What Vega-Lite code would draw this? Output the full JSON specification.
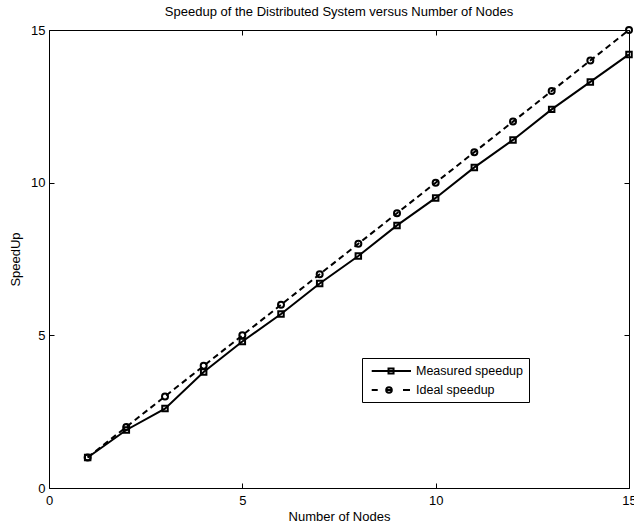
{
  "$schema": "https://vega.github.io/schema/vega-lite/v6.json",
  "width": 580,
  "height": 458,
  "autosize": {"type": "none"},
  "padding": {"left": 49, "top": 30, "right": 5, "bottom": 36},
  "background": "white",
  "config": {
    "font": "Liberation Sans",
    "view": {"stroke": "black", "strokeWidth": 1},
    "axis": {"grid": false, "domain": false, "tickColor": "black", "tickSize": -5, "labelColor": "black", "labelFontSize": 13, "titleFontSize": 13, "titleFontWeight": "normal", "titleColor": "black", "labelFont": "Liberation Sans", "titleFont": "Liberation Sans"}
  },
  "title": {"text": "Speedup of the Distributed System versus Number of Nodes", "fontSize": 13, "fontWeight": "normal", "font": "Liberation Sans", "color": "black", "anchor": "middle", "offset": 4},
  "data": {"values": [
    {"n": 1, "s": 1.0, "series": "Measured speedup"},
    {"n": 2, "s": 1.9, "series": "Measured speedup"},
    {"n": 3, "s": 2.6, "series": "Measured speedup"},
    {"n": 4, "s": 3.8, "series": "Measured speedup"},
    {"n": 5, "s": 4.8, "series": "Measured speedup"},
    {"n": 6, "s": 5.7, "series": "Measured speedup"},
    {"n": 7, "s": 6.7, "series": "Measured speedup"},
    {"n": 8, "s": 7.6, "series": "Measured speedup"},
    {"n": 9, "s": 8.6, "series": "Measured speedup"},
    {"n": 10, "s": 9.5, "series": "Measured speedup"},
    {"n": 11, "s": 10.5, "series": "Measured speedup"},
    {"n": 12, "s": 11.4, "series": "Measured speedup"},
    {"n": 13, "s": 12.4, "series": "Measured speedup"},
    {"n": 14, "s": 13.3, "series": "Measured speedup"},
    {"n": 15, "s": 14.2, "series": "Measured speedup"},
    {"n": 1, "s": 1, "series": "Ideal speedup"},
    {"n": 2, "s": 2, "series": "Ideal speedup"},
    {"n": 3, "s": 3, "series": "Ideal speedup"},
    {"n": 4, "s": 4, "series": "Ideal speedup"},
    {"n": 5, "s": 5, "series": "Ideal speedup"},
    {"n": 6, "s": 6, "series": "Ideal speedup"},
    {"n": 7, "s": 7, "series": "Ideal speedup"},
    {"n": 8, "s": 8, "series": "Ideal speedup"},
    {"n": 9, "s": 9, "series": "Ideal speedup"},
    {"n": 10, "s": 10, "series": "Ideal speedup"},
    {"n": 11, "s": 11, "series": "Ideal speedup"},
    {"n": 12, "s": 12, "series": "Ideal speedup"},
    {"n": 13, "s": 13, "series": "Ideal speedup"},
    {"n": 14, "s": 14, "series": "Ideal speedup"},
    {"n": 15, "s": 15, "series": "Ideal speedup"}
  ]},
  "layer": [
    {
      "transform": [{"filter": "datum.series === 'Measured speedup'"}],
      "mark": {"type": "line", "color": "black", "strokeWidth": 2},
      "encoding": {
        "x": {"field": "n", "type": "quantitative", "scale": {"domain": [0, 15], "nice": false}, "axis": {"orient": "bottom", "values": [0, 5, 10, 15], "title": "Number of Nodes", "labelPadding": 11, "titlePadding": 3, "labelFlush": false}},
        "y": {"field": "s", "type": "quantitative", "scale": {"domain": [0, 15], "nice": false}, "axis": {"orient": "left", "values": [0, 5, 10, 15], "title": "SpeedUp", "labelPadding": 9, "titlePadding": 8, "labelFlush": false}}
      }
    },
    {
      "transform": [{"filter": "datum.series === 'Ideal speedup'"}],
      "mark": {"type": "line", "color": "black", "strokeWidth": 2, "strokeDash": [6, 4]},
      "encoding": {
        "x": {"field": "n", "type": "quantitative", "axis": null},
        "y": {"field": "s", "type": "quantitative", "axis": null}
      }
    },
    {
      "transform": [{"filter": "datum.series === 'Measured speedup'"}],
      "mark": {"type": "point", "shape": "square", "filled": false, "stroke": "black", "strokeWidth": 2, "size": 30, "opacity": 1},
      "encoding": {
        "x": {"field": "n", "type": "quantitative", "axis": {"orient": "top", "values": [0, 5, 10, 15], "labels": false, "title": null}},
        "y": {"field": "s", "type": "quantitative", "axis": {"orient": "right", "values": [0, 5, 10, 15], "labels": false, "title": null}}
      }
    },
    {
      "transform": [{"filter": "datum.series === 'Ideal speedup'"}],
      "mark": {"type": "point", "shape": "circle", "filled": false, "stroke": "black", "strokeWidth": 2, "size": 36, "opacity": 1},
      "encoding": {
        "x": {"field": "n", "type": "quantitative", "axis": null},
        "y": {"field": "s", "type": "quantitative", "axis": null}
      }
    },
    {
      "mark": {"type": "point", "filled": false, "color": "black", "strokeWidth": 2, "size": 196, "opacity": 0},
      "encoding": {
        "x": {"field": "n", "type": "quantitative", "axis": null},
        "y": {"field": "s", "type": "quantitative", "axis": null},
        "shape": {"field": "series", "type": "nominal",
          "scale": {"domain": ["Measured speedup", "Ideal speedup"], "range": ["M-0.47,0H5.14M1.93,-0.36H2.65V0.36H1.93Z", "M-0.47,0H0.39M4,0H5M1.6,0A0.4,0.4 0 1,1 2.4,0A0.4,0.4 0 1,1 1.6,0ZM1.6,0H2.4"]},
          "legend": {"title": null, "orient": "none", "legendX": 313, "legendY": 328, "strokeColor": "black", "fillColor": "white", "padding": 5, "labelFontSize": 12.5, "labelColor": "black", "labelFont": "Liberation Sans", "symbolSize": 196, "symbolStrokeWidth": 2, "symbolStrokeColor": "black", "symbolOpacity": 1, "rowPadding": 4, "labelOffset": 33,
            "encode": {"symbols": {"update": {
              "opacity": {"value": 1},
              "fill": {"value": "transparent"},
              "stroke": {"value": "black"},
              "strokeWidth": {"value": 2}
            }}}}}
      }
    }
  ],
  "resolve": {"axis": {"x": "independent", "y": "independent"}}
}
